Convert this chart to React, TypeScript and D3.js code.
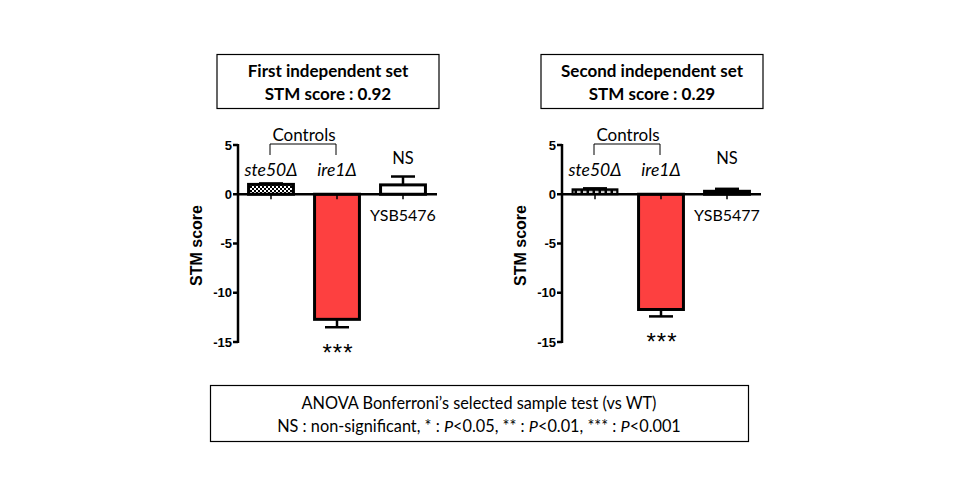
import React from 'react';
import * as d3 from 'd3';

// values
const strains1 = ['ste50Δ', 'ire1Δ', 'YSB5476'];
const strains2 = ['ste50Δ', 'ire1Δ', 'YSB5477'];
const set1Means = [1.0, -12.7, 0.95];
const set1Errors = [0.1, 0.8, 0.85];
const set2Means = [0.5, -11.7, 0.3];
const set2Errors = [0.1, 0.7, 0.25];
const yTicks = [-15, -10, -5, 0, 5];
const titles = ['First independent set', 'Second independent set'];
const stmScores = ['0.92', '0.29'];
const significance = ['', '***', 'NS'];

const labelFont = 'Lato, "Open Sans", sans-serif';
const axisFont = '"Liberation Sans", Arial, sans-serif';

interface PanelProps {
  x0: number;
  strains: string[];
  means: number[];
  errors: number[];
  title: string;
  score: string;
  fillId: string;
  firstStroke: number;
}

const y = d3.scaleLinear().domain([-15, 5]).range([342, 145]);

const Panel: React.FC<PanelProps> = ({ x0, strains, means, errors, title, score, fillId, firstStroke }) => {
  const x = d3.scaleBand<string>()
    .domain(strains)
    .range([x0, x0 + 198])
    .paddingInner(0.32)
    .paddingOuter(0.16);
  const bw = x.bandwidth();
  const cx = (s: string) => (x(s) as number) + bw / 2;
  const fills = [`url(#${fillId})`, '#fd4040', '#ffffff'];
  const boxX = x0 - 21;

  return (
    <g>
      {/* title box */}
      <rect x={boxX} y={54.5} width={222} height={54} fill="white" stroke="black" strokeWidth={1.2} />
      <text x={boxX + 111} y={77} textAnchor="middle" fontFamily={labelFont} fontWeight="bold" fontSize={17}>{title}</text>
      <text x={boxX + 111} y={100} textAnchor="middle" fontFamily={labelFont} fontWeight="bold" fontSize={17}>{`STM score : ${score}`}</text>

      {/* bars */}
      {strains.map((s, i) => {
        const top = y(Math.max(0, means[i]));
        const bottom = y(Math.min(0, means[i]));
        const end = means[i] >= 0 ? y(means[i] + errors[i]) : y(means[i] - errors[i]);
        const edge = means[i] >= 0 ? top : bottom;
        return (
          <g key={s}>
            <line x1={cx(s)} x2={cx(s)} y1={edge} y2={end} stroke="black" strokeWidth={2.5} />
            <line x1={cx(s) - 12} x2={cx(s) + 12} y1={end} y2={end} stroke="black" strokeWidth={2.5} />
            <rect x={x(s)} y={top} width={bw} height={Math.max(bottom - top, 0.5)} fill={fills[i]} stroke="black" strokeWidth={i === 0 ? firstStroke : 3} />
          </g>
        );
      })}

      {/* x axis with ticks at bar centres */}
      <line x1={x0} x2={x0 + 199} y1={y(0)} y2={y(0)} stroke="black" strokeWidth={2.5} />
      {strains.map(s => (
        <line key={s} x1={cx(s)} x2={cx(s)} y1={y(0)} y2={y(0) + 5} stroke="black" strokeWidth={1.5} />
      ))}

      {/* y axis */}
      <line x1={x0} x2={x0} y1={y(5) - 1} y2={y(-15) + 1} stroke="black" strokeWidth={2.5} />
      {yTicks.map(t => (
        <g key={t}>
          <line x1={x0 - 5} x2={x0} y1={y(t)} y2={y(t)} stroke="black" strokeWidth={2.5} />
          <text x={x0 - 6} y={y(t)} dy="0.35em" textAnchor="end" fontFamily={axisFont} fontWeight="bold" fontSize={13}>{t}</text>
        </g>
      ))}
      <text transform={`translate(${x0 - 36},${y(-5) + 2}) rotate(-90)`} textAnchor="middle" fontFamily={axisFont} fontWeight="bold" fontSize={16}>STM score</text>

      {/* labels */}
      <text x={(cx(strains[0]) + cx(strains[1])) / 2} y={141} textAnchor="middle" fontFamily={labelFont} fontSize={17}>Controls</text>
      <path d={`M${cx(strains[0]) - 1},155V144H${cx(strains[1]) - 1}V155`} fill="none" stroke="black" strokeWidth={1} />
      {strains.slice(0, 2).map(s => (
        <text key={s} x={cx(s)} y={176} textAnchor="middle" fontFamily={labelFont} fontStyle="italic" fontSize={17.5}>{s}</text>
      ))}
      <text x={cx(strains[2])} y={164} textAnchor="middle" fontFamily={labelFont} fontSize={16.5}>{significance[2]}</text>
      <text x={cx(strains[2])} y={221} textAnchor="middle" fontFamily={labelFont} fontSize={16}>{strains[2]}</text>
      <text x={cx(strains[1]) + 1} y={y(means[1] - errors[1]) + 34} textAnchor="middle" fontFamily={axisFont} fontSize={24} letterSpacing={1}>{significance[1]}</text>
    </g>
  );
};

const App: React.FC = () => (
  <svg width={960} height={500} style={{ display: 'block', margin: -8 }}>
    <defs>
      <pattern id="checker" width={4} height={4} patternUnits="userSpaceOnUse">
        <rect width={4} height={4} fill="white" />
        <rect width={2} height={2} fill="black" />
        <rect x={2} y={2} width={2} height={2} fill="black" />
      </pattern>
      <pattern id="dots" width={6} height={4} y={190.6} patternUnits="userSpaceOnUse">
        <rect width={6} height={4} fill="black" />
        <rect x={1} y={0.4} width={3.5} height={2.2} fill="white" />
      </pattern>
    </defs>
    <rect width={960} height={500} fill="white" />
    <Panel x0={238} strains={strains1} means={set1Means} errors={set1Errors} title={titles[0]} score={stmScores[0]} fillId="checker" firstStroke={3} />
    <Panel x0={562} strains={strains2} means={set2Means} errors={set2Errors} title={titles[1]} score={stmScores[1]} fillId="dots" firstStroke={2} />

    {/* footnote box */}
    <rect x={210.5} y={385.5} width={538} height={56} fill="white" stroke="black" strokeWidth={1.2} />
    <text x={479} y={409} textAnchor="middle" fontFamily={labelFont} fontSize={16.3}>ANOVA Bonferroni’s selected sample test (vs WT)</text>
    <text x={479} y={432} textAnchor="middle" fontFamily={labelFont} fontSize={16.3}>
      NS : non-significant, * : <tspan fontStyle="italic">P</tspan>&lt;0.05, ** : <tspan fontStyle="italic">P</tspan>&lt;0.01, *** : <tspan fontStyle="italic">P</tspan>&lt;0.001
    </text>
  </svg>
);

export default App;
